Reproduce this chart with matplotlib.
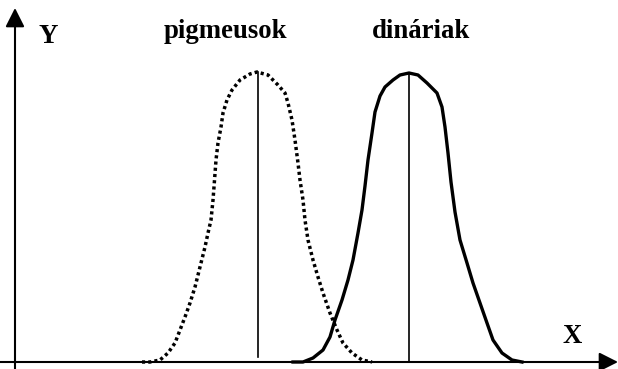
import matplotlib.pyplot as plt

# curves: x position, height above the X axis
pigmy_x = [142, 150, 160, 168, 175, 180, 185, 190, 195, 200, 205, 208, 211,
           213, 214, 216, 218, 221, 223, 227, 232, 240, 250, 257, 268, 278,
           285, 288, 292, 295, 298, 300, 303, 305, 308, 313, 318, 323, 330,
           337, 343, 352, 362, 372]
pigmy_y = [0, 0, 2, 9, 19, 32, 45, 59, 75, 95, 115, 129, 142,
           162, 175, 202, 219, 235, 249, 262, 272, 282, 288, 290, 287, 277,
           269, 259, 242, 222, 199, 182, 162, 142, 122, 102, 85, 69, 49,
           32, 19, 9, 2, 0]

dinar_x = [293, 303, 313, 323, 330, 335, 342, 348, 353, 358, 362, 365, 368,
           372, 375, 380, 385, 393, 400, 409, 418, 427, 437, 442, 445, 448,
           451, 455, 460, 467, 473, 480, 487, 493, 502, 512, 522]
dinar_y = [0, 0, 4, 12, 25, 42, 62, 82, 102, 129, 152, 176, 202,
           229, 250, 266, 275, 282, 287, 289, 287, 279, 269, 255, 235, 209,
           180, 150, 122, 99, 79, 59, 39, 22, 9, 2, 0]

pigmy_mean = 258
dinar_mean = 409
group_labels = ['pigmeusok', 'dináriak']

fig = plt.figure(figsize=(6.18, 3.69), dpi=100)
ax = fig.add_axes([0, 0, 1, 1])
ax.set_xlim(0, 618)
ax.set_ylim(-7, 362)
ax.axis('off')

# axes with arrows
arrow = dict(arrowstyle='-|>,head_length=1.15,head_width=0.58', color='black', lw=1.5,
             shrinkA=0, shrinkB=0)
ax.annotate('', xy=(15, 354), xytext=(15, -7), arrowprops=arrow)
ax.annotate('', xy=(618, 0), xytext=(0, 0), arrowprops=arrow)

ax.plot(pigmy_x, pigmy_y, color='black', lw=2.5, linestyle=(0, (0.9, 0.9)),
        dash_capstyle='butt')
ax.plot(dinar_x, dinar_y, color='black', lw=2.4, solid_joinstyle='round')
ax.plot([pigmy_mean, pigmy_mean], [5, 290], color='black', lw=1.2)
ax.plot([dinar_mean, dinar_mean], [0, 289], color='black', lw=1.2)

txt = dict(family='Liberation Serif', weight='bold', fontsize=19.3,
           ha='center', va='baseline')
ax.text(48, 319, 'Y', **txt)
ax.text(572, 19, 'X', **txt)
ax.text(225.5, 324, group_labels[0], **txt)
ax.text(421, 324, group_labels[1], **txt)

fig.savefig('out.png', dpi=100)
